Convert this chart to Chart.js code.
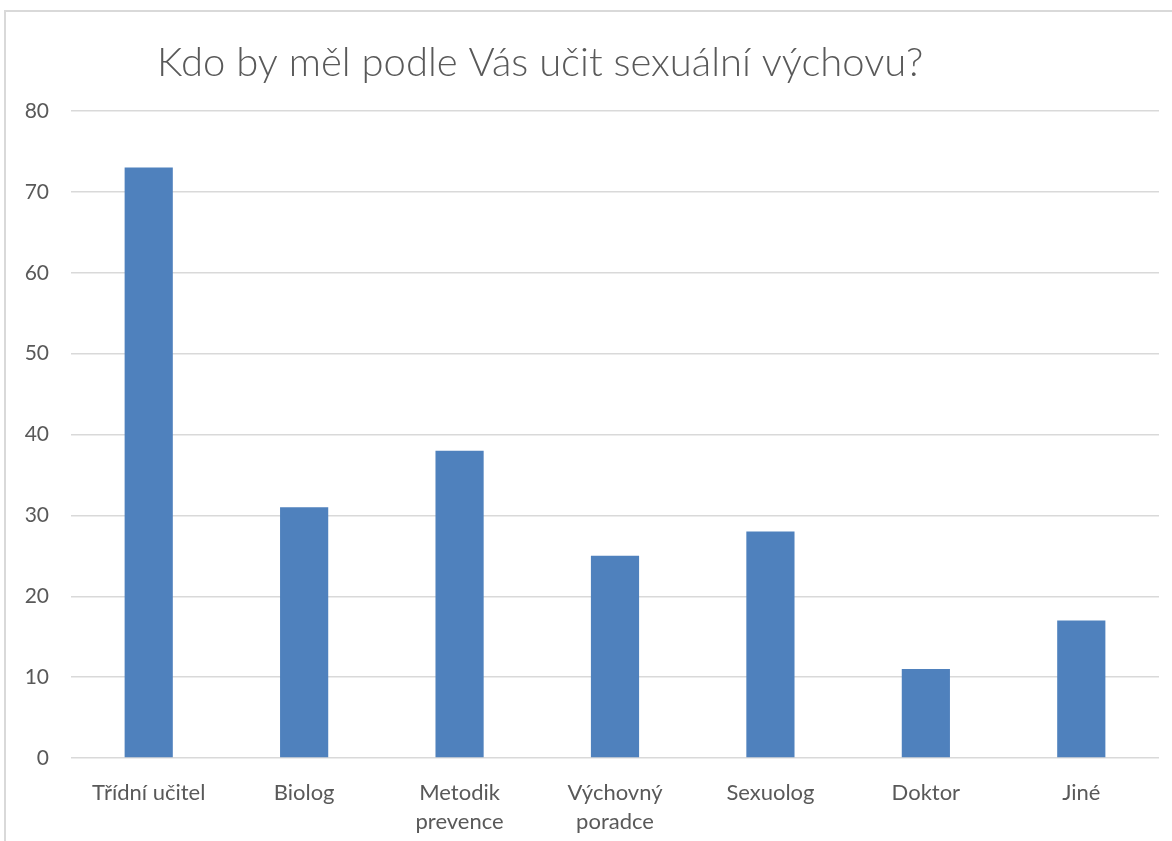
<!DOCTYPE html>
<html>
<head>
<meta charset="utf-8">
<script src="https://cdn.jsdelivr.net/npm/chart.js@4"></script>
<style>
  html, body { margin: 0; padding: 0; background: #fff; overflow: hidden; }
  #frame {
    position: absolute; left: 4px; top: 10px; width: 1300px; height: 1000px;
    border-left: 2px solid #d9d9d9; border-top: 2px solid #d9d9d9;
  }
  #wrap { position: absolute; left: 0; top: 0; width: 1172px; height: 841px; }
</style>
</head>
<body>
<div id="frame"></div>
<div id="wrap"><canvas id="chart"></canvas></div>
<script>
const titleText = 'Kdo by měl podle Vás učit sexuální výchovu?';
const categories = [
    'Třídní učitel',
    'Biolog',
    ['Metodik', 'prevence'],
    ['Výchovný', 'poradce'],
    'Sexuolog',
    'Doktor',
    'Jiné',
];
const answers = [73, 31, 38, 25, 28, 11, 17];
const yTicks = [0, 10, 20, 30, 40, 50, 60, 70, 80];

const textColor = '#595959';
const gridColor = '#d9d9d9';
const barColor = '#4f81bd';
const fontFamily = 'Lato, "Open Sans", sans-serif';

// move the title off to the left like in the excel sheet
const titleShift = {
    id: 'titleShift',
    afterLayout(chart) {
        if (chart.titleBlock) {
            chart.titleBlock.left = 157;
        }
    }
};

new Chart(document.getElementById('chart'), {
    type: 'bar',
    data: {
        labels: categories,
        datasets: [{
            label: 'Počet',
            data: answers,
            backgroundColor: barColor,
            borderWidth: 0,
            barPercentage: 0.31,
            categoryPercentage: 1,
        }],
    },
    options: {
        responsive: true,
        maintainAspectRatio: false,
        animation: false,
        layout: {
            padding: { left: 0, right: 13, top: 0, bottom: 0 },
        },
        plugins: {
            legend: { display: false },
            tooltip: { enabled: false },
            title: {
                display: true,
                text: titleText,
                align: 'start',
                color: textColor,
                font: { family: fontFamily, size: 40, weight: 300, lineHeight: 1.2 },
                padding: { top: 39, bottom: 24 },
            },
        },
        scales: {
            x: {
                grid: { display: false },
                border: { display: false },
                ticks: {
                    color: textColor,
                    font: { family: fontFamily, size: 22, lineHeight: 1.3 },
                    padding: 13,
                    maxRotation: 0,
                    autoSkip: false,
                },
                afterFit(scale) {
                    scale.height = 83;
                },
            },
            y: {
                min: 0,
                max: 80,
                border: { display: false },
                grid: {
                    color: gridColor,
                    lineWidth: 1.5,
                    drawTicks: false,
                },
                afterBuildTicks(scale) {
                    scale.ticks = yTicks.map(v => ({ value: v }));
                },
                ticks: {
                    color: textColor,
                    font: { family: fontFamily, size: 21 },
                    padding: 22,
                },
                afterFit(scale) {
                    scale.width = 71;
                },
            },
        },
    },
    plugins: [titleShift],
});
</script>
</body>
</html>
